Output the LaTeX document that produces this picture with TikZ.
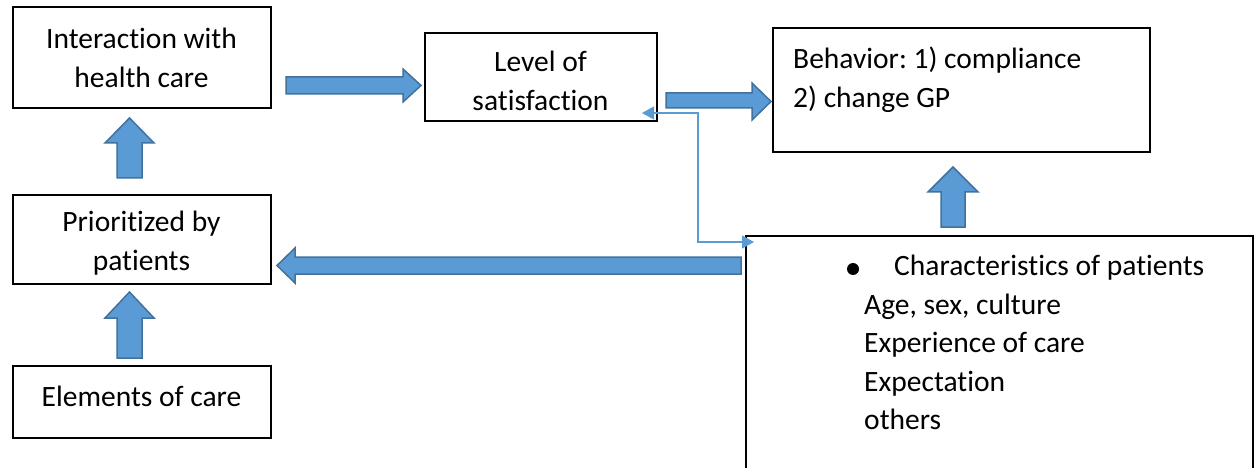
\documentclass[tikz,border=0pt]{standalone}
\usepackage{fontspec}
\setmainfont[Ligatures=NoCommon]{Carlito}
\usetikzlibrary{arrows.meta}
\definecolor{arrowblue}{HTML}{5B9BD5}
\definecolor{arrowedge}{HTML}{41719C}
\definecolor{linkblue}{HTML}{5B9BD5}
\frenchspacing
\begin{document}
\begin{tikzpicture}[x=1pt,y=-1pt,
  box/.style={draw=black, line width=2pt, rectangle, inner sep=0pt},
  txt/.style={font=\fontsize{29.5}{38.5}\selectfont, inner sep=0pt, align=center},
  blockarrow/.style={fill=arrowblue, draw=arrowedge, line width=1.5pt, line join=miter},
  linkline/.style={draw=linkblue, line width=1.2pt}]
\useasboundingbox (0,0) rectangle (1254,468);
\fill[white] (0,0) rectangle (1254,468);

% boxes
\node[box, minimum width=258pt, minimum height=101pt] (inter) at (141.5,57.5) {};
\node[box, minimum width=232pt, minimum height=88pt] (sat) at (540.5,77.5) {};
\node[box, minimum width=377pt, minimum height=124pt] (beh) at (961.5,90) {};
\node[box, minimum width=258pt, minimum height=89pt] (prio) at (141.5,239.5) {};
\node[box, minimum width=258pt, minimum height=72pt] (elem) at (141.5,402) {};
\draw[line width=2pt] (1253,480) -- (1253,236) -- (746,236) -- (746,480);

% texts
\node[txt] (interT) at (141.5,58) {Interaction with\\health care};
\node[txt] (satT) at (540.5,81) {Level of\\satisfaction};
\node[txt, align=left, anchor=west] (behT) at (793,79.5) {Behavior: 1) compliance\\2) change GP};
\node[txt] (prioT) at (141.5,243) {Prioritized by\\patients};
\node[txt] (elemT) at (141.5,396) {Elements of care};
\fill (853,269) circle (6pt);
\node[txt, align=left, anchor=north west] (charT) at (864,255)
  {\hspace*{30pt}Characteristics of patients\\Age, sex, culture\\Experience of care\\Expectation\\others};

% block arrows
\draw[blockarrow] (286,77) -- (403,77) -- (403,69) -- (421,85.5) -- (403,102) -- (403,94) -- (286,94) -- cycle;
\draw[blockarrow] (666,93) -- (752,93) -- (752,83) -- (771,101.5) -- (752,120) -- (752,108) -- (666,108) -- cycle;
\draw[blockarrow] (117,178) -- (117,143) -- (105,143) -- (129.5,118) -- (154,143) -- (142,143) -- (142,178) -- cycle;
\draw[blockarrow] (117,358) -- (117,318) -- (105,318) -- (129.5,292) -- (154,318) -- (142,318) -- (142,358) -- cycle;
\draw[blockarrow] (941,227) -- (941,192) -- (928,192) -- (953,167) -- (978,192) -- (965,192) -- (965,227) -- cycle;
\draw[blockarrow] (741,257) -- (295,257) -- (295,248) -- (277,265.5) -- (295,283) -- (295,274) -- (741,274) -- cycle;

% thin two-headed link
\coordinate (linkA) at (642,113);
\coordinate (linkB) at (754,242);
\draw[linkline, {Triangle[length=12pt,width=13pt]}-{Triangle[length=12pt,width=13pt]}]
  (linkA) -- (698,113) -- (698,242) -- (linkB);
\end{tikzpicture}
\end{document}
